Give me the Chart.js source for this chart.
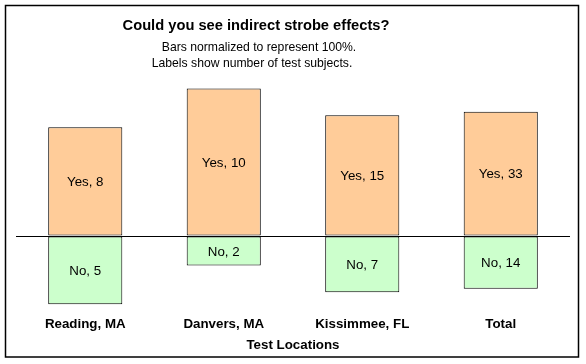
<!DOCTYPE html>
<html>
<head>
<meta charset="utf-8">
<script src="https://cdn.jsdelivr.net/npm/chart.js@4.4.1/dist/chart.umd.min.js"></script>
<style>
  html, body { margin: 0; padding: 0; background: #ffffff; }
  #strobeChart { display: block; }
</style>
</head>
<body>
<canvas id="strobeChart" width="586" height="364"></canvas>
<script>
// data
const locations = ['Reading, MA', 'Danvers, MA', 'Kissimmee, FL', 'Total'];
const yesCounts = [8, 10, 15, 33];
const noCounts = [5, 2, 7, 14];
// bars are normalized, so heights are percent of subjects (no drawn below zero)
const yesPercent = [61.5, 83.3, 68.2, 70.2];
const noPercent = [-38.5, -16.7, -31.8, -29.8];

const titleText = 'Could you see indirect strobe effects?';
const subtitleLines = ['Bars normalized to represent 100%.', 'Labels show number of test subjects.'];

Chart.defaults.font.family = "'Liberation Sans', Arial, sans-serif";
Chart.defaults.color = '#000000';

// frame + title block, like the excel chart
const frameAndTitle = {
  id: 'frameAndTitle',
  beforeDraw(chart) {
    const ctx = chart.ctx;
    ctx.save();
    ctx.fillStyle = '#ffffff';
    ctx.fillRect(0, 0, chart.width, chart.height);
    ctx.restore();
  },
  afterDraw(chart) {
    const ctx = chart.ctx;
    ctx.save();
    ctx.strokeStyle = '#000000';
    ctx.lineWidth = 1.5;
    ctx.strokeRect(5.5, 5.5, 573, 351.5);

    ctx.fillStyle = '#000000';
    ctx.textAlign = 'center';
    ctx.textBaseline = 'alphabetic';
    ctx.font = "bold 14.7px 'Liberation Sans', Arial, sans-serif";
    ctx.fillText(titleText, 256, 30);
    ctx.font = "12.2px 'Liberation Sans', Arial, sans-serif";
    ctx.fillText(subtitleLines[0], 259, 51);
    ctx.fillText(subtitleLines[1], 252, 67);
    ctx.restore();
  }
};

// "Yes, 8" style labels in the middle of each bar segment
const segmentLabels = {
  id: 'segmentLabels',
  afterDatasetsDraw(chart) {
    const ctx = chart.ctx;
    ctx.save();
    ctx.fillStyle = '#000000';
    ctx.font = "13.33px 'Liberation Sans', Arial, sans-serif";
    ctx.textAlign = 'center';
    ctx.textBaseline = 'middle';
    chart.data.datasets.forEach((ds, i) => {
      const meta = chart.getDatasetMeta(i);
      meta.data.forEach((bar, j) => {
        const midY = (bar.y + bar.base) / 2;
        ctx.fillText(ds.label + ', ' + ds.counts[j], bar.x, midY + 1);
      });
    });
    ctx.restore();
  }
};

new Chart(document.getElementById('strobeChart'), {
  type: 'bar',
  data: {
    labels: locations,
    datasets: [{
      label: 'Yes',
      data: yesPercent,
      counts: yesCounts,
      backgroundColor: '#FFCC99',
      borderColor: '#000000',
      borderWidth: 1,
      borderSkipped: false
    }, {
      label: 'No',
      data: noPercent,
      counts: noCounts,
      backgroundColor: '#CCFFCC',
      borderColor: '#000000',
      borderWidth: 1,
      borderSkipped: false
    }]
  },
  options: {
    responsive: false,
    animation: false,
    events: [],
    layout: {
      padding: { top: 59, left: 16, right: 16, bottom: 7 }
    },
    datasets: {
      bar: { categoryPercentage: 1, barPercentage: 0.535 }
    },
    plugins: {
      legend: { display: false },
      tooltip: { enabled: false },
      title: { display: false }
    },
    scales: {
      x: {
        stacked: true,
        grid: { display: false, drawTicks: false },
        border: { display: false },
        ticks: {
          padding: 3,
          font: { size: 13.33, weight: 'bold' }
        },
        title: {
          display: true,
          text: 'Test Locations',
          font: { size: 13.33, weight: 'bold' },
          padding: { top: 2, bottom: 4 }
        }
      },
      y: {
        stacked: true,
        min: -43.5,
        max: 100,
        afterBuildTicks: axis => { axis.ticks = [{ value: 0 }]; },
        grid: { color: '#000000', lineWidth: 1, drawTicks: false },
        border: { display: false },
        ticks: { display: false }
      }
    }
  },
  plugins: [frameAndTitle, segmentLabels]
});
</script>
</body>
</html>
